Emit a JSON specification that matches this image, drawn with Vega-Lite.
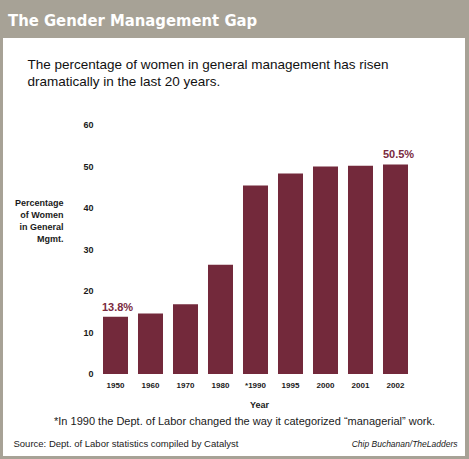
{
  "$schema": "https://vega.github.io/schema/vega-lite/v6.json",
  "width": 462,
  "height": 418,
  "autosize": {"type": "none"},
  "padding": {"left": 3, "top": 38, "right": 4, "bottom": 3},
  "background": "#a7a296",
  "config": {"view": {"fill": "white", "stroke": null}, "font": "Liberation Sans"},
  "title": {
    "text": "The Gender Management Gap",
    "anchor": "start",
    "frame": "group",
    "dx": 5,
    "offset": 9,
    "color": "white",
    "font": "DejaVu Sans Condensed, DejaVu Sans, sans-serif",
    "fontWeight": "bold",
    "fontSize": 16.5
  },
  "data": {
    "values": [
      {"year": "1950", "pct": 13.8, "label": "13.8%"},
      {"year": "1960", "pct": 14.6, "label": ""},
      {"year": "1970", "pct": 16.8, "label": ""},
      {"year": "1980", "pct": 26.3, "label": ""},
      {"year": "*1990", "pct": 45.4, "label": ""},
      {"year": "1995", "pct": 48.3, "label": ""},
      {"year": "2000", "pct": 50.0, "label": ""},
      {"year": "2001", "pct": 50.2, "label": ""},
      {"year": "2002", "pct": 50.5, "label": "50.5%"}
    ]
  },
  "resolve": {
    "scale": {"x": "independent", "y": "independent"},
    "axis": {"x": "independent", "y": "independent"}
  },
  "layer": [
    {
      "mark": {"type": "bar", "color": "#73293b"},
      "encoding": {
        "x": {
          "field": "year", "type": "ordinal", "sort": null,
          "scale": {"type": "band", "domain": ["1950","1960","1970","1980","*1990","1995","2000","2001","2002"], "range": [100, 405], "paddingInner": 0.2857, "paddingOuter": 0},
          "axis": {
            "orient": "bottom", "offset": -82, "labelAngle": 0, "domain": false, "ticks": false, "tickSize": 0,
            "labelPadding": 7, "labelFontSize": 8, "labelFontWeight": "bold", "labelColor": "#1a1a1a",
            "labelOverlap": false, "labelFlush": false, "grid": false,
            "title": "Year", "titleFontSize": 9, "titleFontWeight": "bold", "titleColor": "#1a1a1a",
            "titleX": 256, "titleY": 30, "titleBaseline": "middle", "titleAlign": "center"
          }
        },
        "y": {
          "field": "pct", "type": "quantitative",
          "scale": {"domain": [-19.76, 80.96], "nice": false, "zero": false},
          "axis": {
            "orient": "left", "offset": -90, "values": [0,10,20,30,40,50,60], "domain": false, "ticks": false, "tickSize": 0,
            "labelPadding": 0, "grid": false, "labelFontSize": 9, "labelFontWeight": "bold", "labelColor": "#1a1a1a", "labelOverlap": false,
            "title": ["Percentage", "of Women", "in General", "Mgmt."],
            "titleAngle": 0, "titleAlign": "right", "titleBaseline": "top", "titleX": -30, "titleY": 160,
            "titleFontSize": 9, "titleFontWeight": "bold", "titleLineHeight": 12, "titleColor": "#1a1a1a"
          }
        }
      }
    },
    {
      "transform": [{"filter": "datum.year == '1950'"}],
      "mark": {"type": "text", "color": "#7a2a40", "fontSize": 11, "fontWeight": "bold", "baseline": "alphabetic", "dy": -6, "dx": 2},
      "encoding": {
        "text": {"field": "label"},
        "x": {
          "field": "year", "type": "ordinal", "sort": null,
          "scale": {"type": "point", "domain": ["1950","1960","1970","1980","*1990","1995","2000","2001","2002"], "range": [112.5, 392.5], "padding": 0},
          "axis": {
            "orient": "bottom", "labels": false, "domain": false, "ticks": false, "grid": false,
            "title": "*In 1990 the Dept. of Labor changed the way it categorized \u201cmanagerial\u201d work.",
            "titleX": 241, "titleY": -35, "titleBaseline": "middle", "titleAlign": "center",
            "titleFontSize": 11, "titleFontWeight": "normal", "titleColor": "#1a1a1a"
          }
        },
        "y": {
          "field": "pct", "type": "quantitative",
          "scale": {"domain": [-19.76, 80.96], "nice": false, "zero": false},
          "axis": {
            "orient": "right", "labels": false, "domain": false, "ticks": false, "grid": false,
            "title": "Chip Buchanan/TheLadders",
            "titleAngle": 0, "titleAlign": "right", "titleBaseline": "middle", "titleX": -8, "titleY": 405,
            "titleFontSize": 8.5, "titleFontWeight": "normal", "titleFontStyle": "italic", "titleColor": "#1a1a1a"
          }
        }
      }
    },
    {
      "transform": [{"filter": "datum.year == '2002'"}],
      "mark": {"type": "text", "color": "#7a2a40", "fontSize": 11, "fontWeight": "bold", "baseline": "alphabetic", "dy": -6, "dx": 3},
      "encoding": {
        "text": {"field": "label"},
        "x": {
          "field": "year", "type": "ordinal", "sort": null,
          "scale": {"type": "point", "domain": ["1950","1960","1970","1980","*1990","1995","2000","2001","2002"], "range": [112.5, 392.5], "padding": 0},
          "axis": {
            "orient": "bottom", "labels": false, "domain": false, "ticks": false, "grid": false,
            "title": "Source: Dept. of Labor statistics compiled by Catalyst",
            "titleX": 10, "titleY": -13, "titleBaseline": "middle", "titleAlign": "left",
            "titleFontSize": 9.5, "titleFontWeight": "normal", "titleColor": "#1a1a1a"
          }
        },
        "y": {
          "field": "pct", "type": "quantitative",
          "scale": {"domain": [-19.76, 80.96], "nice": false, "zero": false},
          "axis": {
            "orient": "left", "labels": false, "domain": false, "ticks": false, "grid": false,
            "title": ["The percentage of women in general management has risen", "dramatically in the last 20 years."],
            "titleAngle": 0, "titleAlign": "left", "titleBaseline": "top", "titleX": 24, "titleY": 19.5,
            "titleFontSize": 13.5, "titleFontWeight": "normal", "titleLineHeight": 17, "titleColor": "#111111"
          }
        }
      }
    }
  ]
}
